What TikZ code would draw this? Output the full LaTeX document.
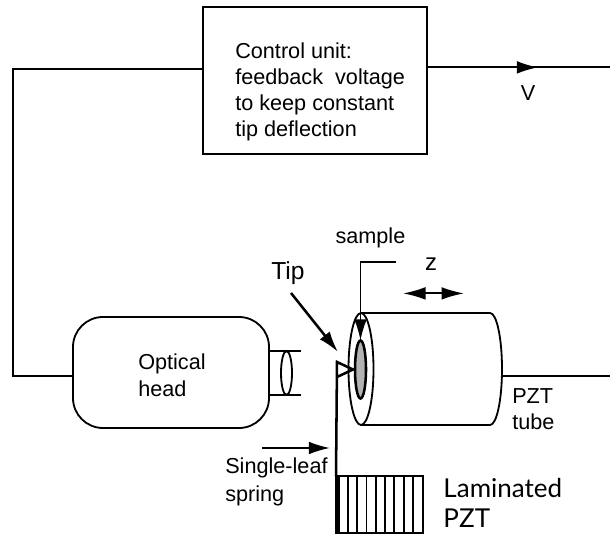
\documentclass[tikz,border=0pt]{standalone}
\usepackage{fontspec}
\setmainfont{Liberation Sans}
\newfontfamily\lamfont{Lato}
\usetikzlibrary{arrows.meta,shapes.geometric}
\tikzset{
  wire/.style={line width=1.3pt},
  heavy/.style={line width=1.8pt},
  bigtip/.style={-{Latex[length=15pt,width=9pt]}},
  txt/.style={font=\fontsize{15.4pt}{18.5pt}\selectfont,align=left,inner sep=0pt},
  lens/.style={draw,wire,ellipse,inner sep=0pt,outer sep=0pt},
}
\begin{document}
\begin{tikzpicture}[scale=1]
    \useasboundingbox (0,0) rectangle (15.25,13.375);
    % control unit and feedback wire
    \node[draw,wire,minimum width=5.6cm,minimum height=3.675cm,outer sep=0pt] (ctrl) at (7.875,11.36) {};
    \node[txt,anchor=west] (ctrltxt) at (5.875,11.07) {Control unit:\\feedback\ \ voltage\\to keep constant\\tip deflection};
    \coordinate (out) at (15.25,11.69);
    \coordinate (vmark) at (13.45,11.69);
    \coordinate (corner) at (.325,11.65);
    \node[draw,wire,rounded corners=.75cm,minimum width=4.9cm,minimum height=2.775cm,outer sep=0pt] (optic) at (4.275,4.0625) {};
    \node[txt,anchor=west,font=\fontsize{15.4pt}{19.5pt}\selectfont] (optictxt) at (3.45,4.0) {Optical\\head};
    \draw[wire] (ctrl.west |- corner) -- (corner) |- (optic.west |- 0,3.975);
    \draw[wire] (ctrl.east |- out) -- (out);
    \draw[wire,bigtip] (ctrl.east |- out) -- (vmark);
    \node[txt] (vlabel) at (13.2,11.05) {V};
    % lens
    \node[lens,minimum width=.275cm,minimum height=1.1cm] (lensa) at (7.1625,4.05) {};
    \draw[wire] (optic.east |- lensa.north) -- ++(.8,0);
    \draw[wire] (optic.east |- lensa.south) -- ++(.8,0);
    % PZT tube
    \node[lens,minimum width=.625cm,minimum height=2.8cm] (front) at (9.025,4.15) {};
    \node[lens,heavy,fill=black!30,minimum width=.275cm,minimum height=1.45cm] (disc) at (9.0125,4.1375) {};
    \draw[wire] (front.north) -- ++(3.225,0) arc[start angle=90,end angle=-90,x radius=.3,y radius=1.4] -- (front.south);
    \coordinate (tubeend) at (12.55,3.975);
    \coordinate (tubeout) at (15.25,3.975);
    \draw[wire] (tubeend) -- (tubeout);
    \node[txt,anchor=west] (tubetxt) at (12.8,3.14) {PZT\\tube};
    % sample
    \node[txt] (samplelbl) at (9.26,7.425) {sample};
    \coordinate (samplebar) at (9.9,6.825);
    \draw[wire,bigtip] (samplebar) -- (disc.north |- samplebar) -- (disc.north);
    % z motion
    \node[txt,font=\fontsize{17pt}{19pt}\selectfont] (zlbl) at (10.775,6.76) {z};
    \coordinate (zl) at (10.075,6.04);
    \coordinate (zr) at (11.6,6.04);
    \draw[wire,{Latex[length=16pt,width=9pt]}-{Latex[length=16pt,width=9pt]}] (zl) -- (zr);
    % tip and spring
    \node[font=\fontsize{17.5pt}{18pt}\selectfont,inner sep=0pt] (tiplbl) at (7.2,6.55) {Tip};
    \coordinate (tiphit) at (8.45,4.575);
    \coordinate (tipfrom) at (7.275,6.05);
    \draw[heavy,bigtip] (tipfrom) -- (tiphit);
    \node[draw,wire,minimum width=2.175cm,minimum height=1.425cm,outer sep=0pt] (lam) at (9.4875,.7625) {};
    \foreach \i in {0,...,7}
      \draw[wire] ([xshift=.3cm+\i*.232cm]lam.north west) -- ([xshift=.3cm+\i*.232cm]lam.south west);
    \fill (lam.north west) rectangle ([xshift=.09cm]lam.south west);
    \coordinate (tribase) at (8.425,4.325);
    \draw[heavy] (lam.north west) -- (tribase) -- (8.825,4.1375) -- (8.425,3.95);
    % labels at the bottom
    \coordinate (springa) at (6.55,2.175);
    \coordinate (springb) at (8.25,2.175);
    \draw[wire,bigtip] (springa) -- (springb);
    \node[txt,anchor=west,font=\fontsize{15.4pt}{20pt}\selectfont] (springtxt) at (5.625,1.32) {Single-leaf\\spring};
    \node[font=\lamfont\fontsize{18.5pt}{21.5pt}\selectfont,align=left,inner sep=0pt,anchor=west] (lamtxt) at (11.08,.8) {Laminated\\PZT};
  \end{tikzpicture}
\end{document}
